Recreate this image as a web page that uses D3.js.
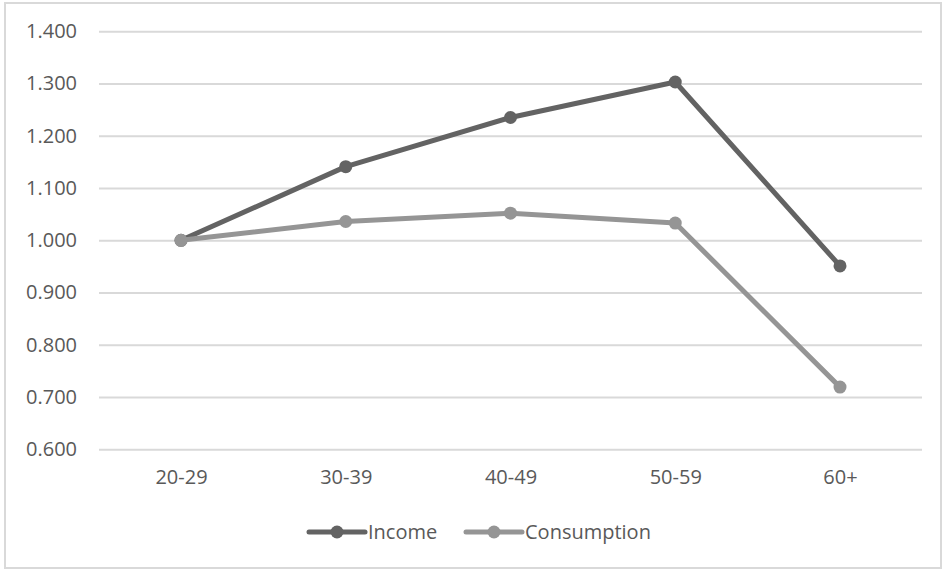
<!DOCTYPE html>
<html><head><meta charset="utf-8">
<script src="https://cdn.jsdelivr.net/npm/d3@7"></script>
<style>body{margin:0;background:#fff}svg{display:block}</style>
</head><body>
<script>
const categories = ["20-29","30-39","40-49","50-59","60+"];
const income = [1.000, 1.141, 1.235, 1.303, 0.951];
const consumption = [1.000, 1.036, 1.052, 1.033, 0.719];
const yTicks = [0.6,0.7,0.8,0.9,1.0,1.1,1.2,1.3,1.4];
const seriesNames = ["Income","Consumption"];
const seriesColors = ["#636363","#959595"];

const W=944,H=570;
const svg=d3.select("body").append("svg").attr("width",W).attr("height",H);
svg.append("rect").attr("x",5).attr("y",3).attr("width",936).attr("height",565)
  .attr("fill","#fff").attr("stroke","#d9d9d9").attr("stroke-width",2);

const x=d3.scalePoint().domain(categories).range([181,840]);
const y=d3.scaleLinear().domain([0.6,1.4]).range([449.3,31.3]);
const font="'Open Sans', sans-serif";
const txt="#595959";

const yAxis=d3.axisLeft(y).tickValues(yTicks).tickFormat(d3.format(".3f")).tickSize(-(922-99)).tickPadding(22);
const gy=svg.append("g").attr("transform","translate(99,0)").call(yAxis);
gy.select(".domain").remove();
gy.selectAll(".tick line").attr("stroke","#d9d9d9").attr("stroke-width",2);
gy.selectAll(".tick text").attr("font-family",font).attr("font-size",20).attr("fill",txt);

const xAxis=d3.axisBottom(x).tickSize(0).tickPadding(0);
const gx=svg.append("g").attr("transform","translate(0,470)").call(xAxis);
gx.select(".domain").remove();
gx.selectAll(".tick text").attr("font-family",font).attr("font-size",20).attr("fill",txt).attr("dy","0.7em");

const data=[income,consumption];
const line=d3.line().x((d,i)=>x(categories[i])).y(d=>y(d));
[0,1].forEach(s=>{
  svg.append("path").datum(data[s]).attr("d",line).attr("fill","none")
    .attr("stroke",seriesColors[s]).attr("stroke-width",5).attr("stroke-linejoin","round");
  svg.selectAll(null).data(data[s]).enter().append("circle")
    .attr("cx",(d,i)=>x(categories[i])).attr("cy",d=>y(d)).attr("r",6.5).attr("fill",seriesColors[s]);
});

// legend
const leg=[{x0:309,name:seriesNames[0],c:seriesColors[0]},{x0:466,name:seriesNames[1],c:seriesColors[1]}];
const ly=532;
leg.forEach(l=>{
  svg.append("line").attr("x1",l.x0).attr("x2",l.x0+56).attr("y1",ly).attr("y2",ly)
    .attr("stroke",l.c).attr("stroke-width",5).attr("stroke-linecap","round");
  svg.append("circle").attr("cx",l.x0+28).attr("cy",ly).attr("r",6.5).attr("fill",l.c);
  svg.append("text").attr("x",l.x0+59).attr("y",ly).attr("dy","0.35em")
    .attr("font-family",font).attr("font-size",20).attr("fill",txt).text(l.name);
});
</script>
</body></html>
